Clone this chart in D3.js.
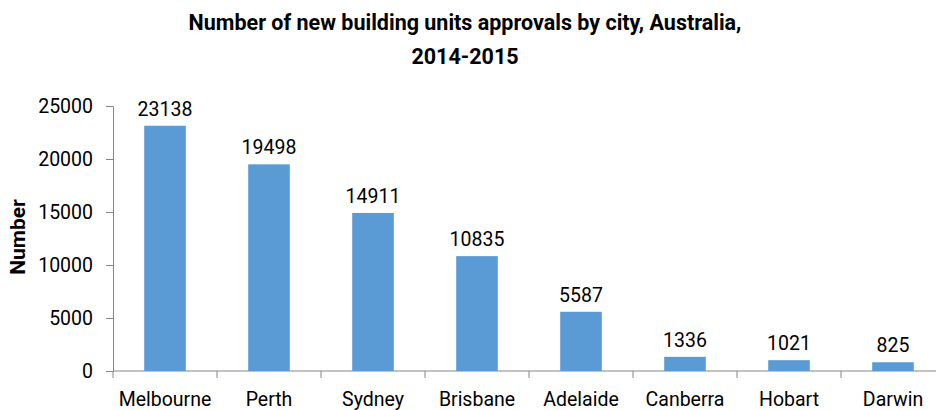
<!DOCTYPE html>
<html>
<head>
<meta charset="utf-8">
<script src="https://cdnjs.cloudflare.com/ajax/libs/d3/7.8.5/d3.min.js"></script>
<style>
  body { margin: 0; background: #fff; }
  text { font-family: Roboto, "Noto Sans", sans-serif; fill: #000; }
</style>
</head>
<body>
<div class="chart"></div>
<script>
var cities = ["Melbourne", "Perth", "Sydney", "Brisbane", "Adelaide", "Canberra", "Hobart", "Darwin"];
var approvals = [23138, 19498, 14911, 10835, 5587, 1336, 1021, 825];
var yTicks = [0, 5000, 10000, 15000, 20000, 25000];

var width = 936, height = 410;

var svg = d3.select(".chart")
    .append("svg")
    .attr("width", width)
    .attr("height", height);

// plot area (runs a bit past the right edge, like the original crop)
var left = 113, right = 945, top_ = 106, bottom = 371;

var x = d3.scaleBand()
    .domain(cities)
    .range([left, right])
    .paddingInner(0.6)
    .paddingOuter(0.3);

var y = d3.scaleLinear()
    .domain([0, 25000])
    .range([bottom, top_]);

// title
svg.append("text")
    .attr("x", 465).attr("y", 30)
    .attr("text-anchor", "middle")
    .style("font-size", "21.5px").style("font-weight", "bold")
    .text("Number of new building units approvals by city, Australia,");
svg.append("text")
    .attr("x", 465).attr("y", 64)
    .attr("text-anchor", "middle")
    .style("font-size", "21.5px").style("font-weight", "bold")
    .text("2014-2015");

// y axis
var yAxis = d3.axisLeft(y).tickValues(yTicks).tickSize(7).tickPadding(13).tickFormat(d3.format("d"));
var gy = svg.append("g")
    .attr("transform", "translate(" + left + ",0)")
    .call(yAxis);
gy.select(".domain").attr("stroke", "#868686");
gy.selectAll(".tick line").attr("stroke", "#868686");
gy.selectAll(".tick text").style("font-size", "19.5px").attr("fill", "#000");

// x axis, ticks between categories
var gx = svg.append("g")
    .attr("transform", "translate(0," + bottom + ")");
gx.append("line")
    .attr("x1", left).attr("x2", right)
    .attr("stroke", "#868686");
gx.selectAll(".sep")
    .data(d3.range(cities.length + 1))
    .enter()
    .append("line")
    .attr("x1", function (i) { return left + i * x.step(); })
    .attr("x2", function (i) { return left + i * x.step(); })
    .attr("y1", 0).attr("y2", 7)
    .attr("stroke", "#868686");
gx.selectAll(".lbl")
    .data(cities)
    .enter()
    .append("text")
    .attr("x", function (d) { return x(d) + x.bandwidth() / 2; })
    .attr("y", 35)
    .attr("text-anchor", "middle")
    .style("font-size", "19.5px")
    .text(function (d) { return d; });

// bars
var data = cities.map(function (c, i) { return { city: c, value: approvals[i] }; });
svg.selectAll("rect.bar")
    .data(data)
    .enter()
    .append("rect")
    .attr("class", "bar")
    .attr("x", function (d) { return x(d.city); })
    .attr("y", function (d) { return y(d.value); })
    .attr("width", x.bandwidth())
    .attr("height", function (d) { return bottom - y(d.value); })
    .style("fill", "#5b9bd5");

// value labels
svg.selectAll("text.val")
    .data(data)
    .enter()
    .append("text")
    .attr("class", "val")
    .attr("x", function (d) { return x(d.city) + x.bandwidth() / 2; })
    .attr("y", function (d) { return y(d.value) - 10; })
    .attr("text-anchor", "middle")
    .style("font-size", "19.5px")
    .text(function (d) { return d.value; });

// y label
svg.append("text")
    .attr("transform", "translate(25,237) rotate(-90)")
    .attr("text-anchor", "middle")
    .style("font-size", "21px").style("font-weight", "bold")
    .text("Number");
</script>
</body>
</html>
